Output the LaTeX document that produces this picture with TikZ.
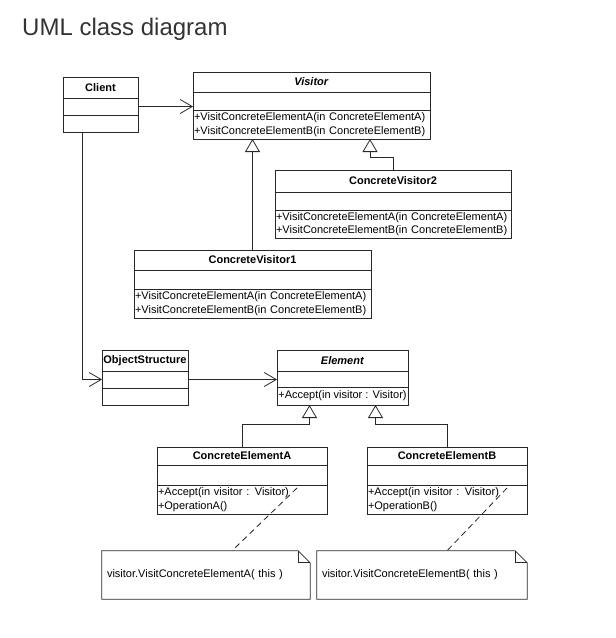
\documentclass[tikz,border=0pt]{standalone}
\usepackage{fontspec}
\setmainfont{Liberation Sans}
\usetikzlibrary{positioning,arrows.meta}
\definecolor{umlLine}{RGB}{40,40,40}
\definecolor{gray20}{RGB}{51,51,51}

\begin{document}
\begin{tikzpicture}[x=1pt, y=-1pt,
	    head/.style={rectangle, draw=umlLine, line width=0.8pt, inner sep=0pt, outer sep=0pt, font=\fontsize{11}{13}\selectfont\bfseries},
	    comp/.style={rectangle, draw=umlLine, line width=0.8pt, inner sep=0pt, outer sep=0pt},
	    ops/.style={comp, inner xsep=1pt, align=left, font=\fontsize{11}{13.5}\selectfont},
	    note/.style={rectangle, inner xsep=5pt, inner ysep=0pt, minimum height=48pt, align=left, font=\fontsize{11}{13}\selectfont},
	    fold/.style={draw=umlLine, line width=0.8pt},
	    assoc/.style={draw=umlLine, line width=0.8pt, -{Straight Barb[length=12pt, width=14pt]}},
	    inherit/.style={draw=umlLine, line width=0.8pt, -{Triangle[open, length=13pt, width=15pt]}},
	    link/.style={draw=umlLine, line width=0.8pt, dash pattern=on 6pt off 4pt}]

	    \useasboundingbox (0,0) rectangle (616,638);
	    \node [anchor=base west, inner sep=0pt, text=gray20, font=\fontsize{24}{28}\selectfont] (title) at (22,35) {UML class diagram};

	    \node [head, anchor=north west, minimum width=75pt, minimum height=21pt] (client) at (63,77) {Client};
	    \node [comp, below=0pt of client, minimum width=75pt, minimum height=17pt] (client-attr) {};
	    \node [comp, below=0pt of client-attr, minimum width=75pt, minimum height=17pt] (client-ops) {};

	    \node [head, anchor=north west, minimum width=237pt, minimum height=20pt] (visitor) at (193,72) {\textit{Visitor}};
	    \node [comp, below=0pt of visitor, minimum width=237pt, minimum height=18pt] (visitor-attr) {};
	    \node [ops, below=0pt of visitor-attr, text width=235pt, minimum height=29pt] (visitor-ops) {+VisitConcreteElementA(in ConcreteElementA)\\+VisitConcreteElementB(in ConcreteElementB)};

	    \node [head, anchor=north west, minimum width=236pt, minimum height=22pt] (cv2) at (275,170) {ConcreteVisitor2};
	    \node [comp, below=0pt of cv2, minimum width=236pt, minimum height=18pt] (cv2-attr) {};
	    \node [ops, below=0pt of cv2-attr, text width=234pt, minimum height=28pt] (cv2-ops) {+VisitConcreteElementA(in ConcreteElementA)\\+VisitConcreteElementB(in ConcreteElementB)};

	    \node [head, anchor=north west, minimum width=237pt, minimum height=20pt] (cv1) at (134,250) {ConcreteVisitor1};
	    \node [comp, below=0pt of cv1, minimum width=237pt, minimum height=19pt] (cv1-attr) {};
	    \node [ops, below=0pt of cv1-attr, text width=235pt, minimum height=29pt] (cv1-ops) {+VisitConcreteElementA(in ConcreteElementA)\\+VisitConcreteElementB(in ConcreteElementB)};

	    \node [head, anchor=north west, minimum width=86pt, minimum height=21pt] (objs) at (102,350) {ObjectStructure};
	    \node [comp, below=0pt of objs, minimum width=86pt, minimum height=17pt] (objs-attr) {};
	    \node [comp, below=0pt of objs-attr, minimum width=86pt, minimum height=17pt] (objs-ops) {};

	    \node [head, anchor=north west, minimum width=131pt, minimum height=21pt] (element) at (277,350) {\textit{Element}};
	    \node [comp, below=0pt of element, minimum width=131pt, minimum height=16pt] (element-attr) {};
	    \node [ops, below=0pt of element-attr, minimum width=131pt, minimum height=18pt] (element-ops) {+Accept(in visitor : Visitor)};

	    \node [head, anchor=north west, minimum width=170pt, minimum height=18pt] (cea) at (157,447) {ConcreteElementA};
	    \node [comp, below=0pt of cea, minimum width=170pt, minimum height=20pt] (cea-attr) {};
	    \node [ops, below=0pt of cea-attr, text width=168pt, minimum height=29pt] (cea-ops) {+Accept(in visitor : Visitor)\\+OperationA()};

	    \node [head, anchor=north west, minimum width=160pt, minimum height=18pt] (ceb) at (367,447) {ConcreteElementB};
	    \node [comp, below=0pt of ceb, minimum width=160pt, minimum height=20pt] (ceb-attr) {};
	    \node [ops, below=0pt of ceb-attr, text width=158pt, minimum height=29pt] (ceb-ops) {+Accept(in visitor : Visitor)\\+OperationB()};

	    \node [note, text width=198pt] (notea) at (206,575) {visitor.VisitConcreteElementA( this )};
	    \node [note, text width=200pt] (noteb) at (422,575) {visitor.VisitConcreteElementB( this )};
	    \path [fold] (notea.north west) -- ([xshift=-12pt]notea.north east) -- ([yshift=-12pt]notea.north east) -- (notea.south east) -- (notea.south west) -- cycle;
	    \path [fold] ([xshift=-12pt]notea.north east) |- ([yshift=-12pt]notea.north east);
	    \path [fold] (noteb.north west) -- ([xshift=-12pt]noteb.north east) -- ([yshift=-12pt]noteb.north east) -- (noteb.south east) -- (noteb.south west) -- cycle;
	    \path [fold] ([xshift=-12pt]noteb.north east) |- ([yshift=-12pt]noteb.north east);

	    \coordinate (cea-link) at ([xshift=-30pt, yshift=-3pt]cea-ops.north east);
	    \coordinate (ceb-link) at ([xshift=-20pt, yshift=-3pt]ceb-ops.north east);

	    \path [assoc] (client-attr.east) -- (client-attr.east -| visitor.west);
	    \path [assoc] ([xshift=19pt]client-ops.south west) |- (objs-attr.west);
	    \path [assoc] (objs-attr.east) -- (objs-attr.east -| element.west);
	    \path [inherit] (cv1.north) -- (cv1.north |- visitor-ops.south);
	    \path [inherit] (cv2.north) -- ++(0,-13) -| ([xshift=-60pt]visitor-ops.south east);
	    \path [inherit] (cea.north) -- ++(0,-23) -| ([xshift=-33pt]element-ops.south);
	    \path [inherit] (ceb.north) -- ++(0,-23) -| ([xshift=33pt]element-ops.south);
	    \path [link] (cea-link) -- ([xshift=26pt]notea.north);
	    \path [link] (ceb-link) -- ([xshift=25pt]noteb.north);
\end{tikzpicture}
\end{document}
